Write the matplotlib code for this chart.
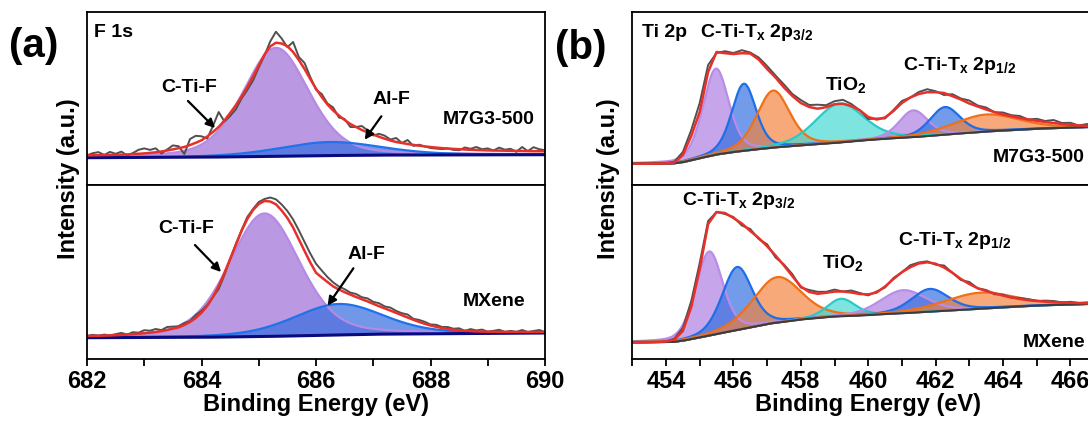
import numpy as np
import matplotlib
matplotlib.use('Agg')
import matplotlib.pyplot as plt
from matplotlib.ticker import MultipleLocator

plt.rcParams['font.family'] = ['Liberation Sans', 'DejaVu Sans']
plt.rcParams['font.weight'] = 'bold'
plt.rcParams['mathtext.fontset'] = 'custom'
plt.rcParams['mathtext.rm'] = 'Liberation Sans:bold'
plt.rcParams['mathtext.it'] = 'Liberation Sans:bold'
plt.rcParams['mathtext.bf'] = 'Liberation Sans:bold'

# ---------------- Panel (a): F 1s ----------------
a_energy = np.linspace(682.0, 690.0, 81)          # 0.1 eV grid

a_top_fit = [29.7, 29.8, 29.9, 30.0, 30.1, 30.2, 30.4, 30.6, 30.9, 31.2,
             31.6, 32.1, 32.7, 33.5, 34.5, 35.6, 36.8, 38.0, 40.0, 42.2,
             44.7, 48.5, 53.0, 58.0, 64.5, 72.0, 79.7, 88.5, 98.0, 108.5,
             119.5, 130.5, 138.5, 142.3, 141.5, 138.8, 133.0, 125.0, 116.0, 106.0,
             96.3, 88.0, 80.5, 74.5, 69.5, 65.0, 61.0, 58.0, 55.0, 52.7,
             50.5, 48.2, 46.3, 44.5, 43.0, 42.0, 41.0, 40.1, 39.3, 38.6,
             38.0, 37.4, 36.9, 36.5, 36.1, 35.8, 35.5, 35.2, 35.0, 34.8,
             34.6, 34.5, 34.4, 34.3, 34.2, 34.1, 34.0, 33.9, 33.8, 33.8, 33.7]
a_top_raw_dev = [0, 2, 3, 0, 3, 1, 3, -1, 1, 4,
                 5, 3, 4, -2, 1, 4, 2, -7, 6, 7,
                 4, -2, 6, 15, -1, -3, -4, -2, -3, -4,
                 -2, -1, 5, 11, 5, -1, 10, 3, 6, 2,
                 -1, 3, 1, 3, -2, 1, -3, 0, 4, 2,
                 -1, 3, 3, 1, 4, 0, 4, -1, 1, 0,
                 -1, -1, -1, 0, -1, -1, 2, 1, 3, 1,
                 2, 0, 3, 1, 2, -1, 4, 0, 4, 2, 1]
a_top_base_e = [682.0, 684.0, 685.0, 686.0, 687.0, 690.0]
a_top_base_v = [27.3, 27.8, 28.4, 29.3, 29.9, 30.3]
a_top_centers = [685.30, 686.25]
a_top_heights = [108.5, 13.5]
a_top_fwhm = [1.35, 2.1]

a_bot_fit = [23.0, 23.1, 23.2, 23.4, 23.6, 23.8, 24.1, 24.4, 24.8, 25.3,
             25.8, 26.3, 27.0, 27.9, 29.0, 30.4, 31.6, 34.0, 37.0, 41.0,
             46.3, 53.0, 62.0, 73.0, 86.0, 100.0, 114.0, 128.0, 140.0, 149.0,
             155.0, 158.0, 157.5, 154.7, 148.5, 141.0, 131.5, 119.7, 108.0, 96.5,
             86.3, 81.5, 77.0, 72.6, 69.5, 66.8, 64.4, 62.0, 59.8, 57.6,
             55.2, 52.8, 50.6, 48.4, 46.1, 43.8, 41.5, 39.2, 37.1, 35.2,
             33.5, 32.2, 31.0, 30.0, 29.3, 28.7, 28.2, 27.9, 27.6, 27.4,
             27.3, 27.2, 27.2, 27.1, 27.1, 27.1, 27.0, 27.0, 27.0, 27.0, 27.0]
a_bot_raw_dev = [0, 1, 0, 1, 0, 1, 2, 0, 2, 1,
                 3, 2, 3, 1, 3, 2, 1, 2, 1, 3,
                 2, 1, 0, -3, -2, 0, 1, 1, 2, 1,
                 2, 2, 4, 5, 6, 7, 8, 9, 9, 9,
                 9, 7, 5, 4, 3, 3, 2, 3, 2, 3,
                 2, 3, 2, 3, 2, 2, 3, 1, 2, 2,
                 1, 2, 1, 2, 1, 2, 0, 2, 1, 2,
                 0, 1, 2, 0, 1, 0, 2, 0, 1, 2, 0]
a_bot_base_e = [682.0, 684.0, 685.0, 686.0, 687.0, 690.0]
a_bot_base_v = [21.3, 21.7, 22.4, 23.5, 24.8, 26.0]
a_bot_centers = [685.10, 686.40]
a_bot_heights = [123.0, 31.0]
a_bot_fwhm = [1.45, 1.85]

a_fill = ['#a070d8', '#3a6fe0']
a_edge = ['#b48ae6', '#1f72ea']

# ---------------- Panel (b): Ti 2p ----------------
b_energy = np.linspace(453.0, 467.0, 57)          # 0.25 eV grid

b_top_fit = [21.3, 21.3, 21.3, 21.4, 21.6, 22.5, 30.0, 49.0, 73.0, 113.0,
             133.0, 131.8, 131.0, 131.8, 131.5, 125.5, 116.0, 107.5, 97.5, 89.0,
             82.0, 78.0, 76.3, 77.8, 80.8, 81.2, 79.0, 74.7, 68.0, 65.5,
             67.5, 74.0, 82.0, 87.5, 91.0, 92.8, 92.8, 92.0, 88.8, 85.5,
             81.5, 78.5, 75.5, 72.8, 70.5, 68.8, 67.0, 65.5, 64.2, 63.0,
             62.0, 61.0, 60.2, 59.5, 59.0, 58.6, 58.3]
b_top_raw_dev = [0, 0, 0, 0, 0, 1, 3, 6, 9, 7,
                 -1, 2, 1, 3, 1, 2, 3, 2, 3, 2,
                 3, 2, 4, 2, 3, 4, 2, 0, -2, 1,
                 -1, 1, 2, 0, 2, 3, 1, -2, 2, 1,
                 3, 1, 2, 0, 2, 1, 2, 0, 2, 1,
                 3, 1, 2, 0, 2, 1, 1]
b_top_base_e = [453.0, 454.2, 454.5, 454.9, 455.5, 456.0, 456.5, 457.2, 458.0,
                459.0, 459.8, 460.6, 461.4, 462.3, 463.5, 465.0, 467.0]
b_top_base_v = [21.3, 21.5, 22.8, 26.0, 30.5, 33.0, 35.0, 37.5, 39.7,
                42.0, 44.5, 46.5, 48.0, 50.5, 53.5, 56.3, 58.5]
b_top_centers = [455.48, 456.31, 457.18, 459.15, 461.34, 462.28, 463.50]
b_top_heights = [86.0, 67.0, 57.0, 39.0, 26.7, 27.5, 17.0]
b_top_fwhm = [0.90, 0.85, 1.15, 1.70, 1.00, 1.05, 2.30]

b_bot_fit = [16.7, 16.7, 16.8, 17.0, 17.5, 19.5, 28.0, 52.0, 90.0, 135.0,
             147.0, 146.0, 141.0, 135.5, 128.0, 121.0, 112.7, 103.5, 93.5, 82.8,
             72.5, 67.0, 65.2, 66.2, 67.4, 67.5, 66.5, 65.0, 64.6, 66.5,
             72.5, 80.0, 86.8, 91.8, 95.5, 96.7, 95.3, 91.5, 86.2, 80.0,
             75.0, 70.7, 68.0, 65.7, 63.4, 61.5, 60.0, 58.8, 58.0, 57.4,
             57.0, 56.6, 56.2, 56.0, 55.7, 55.5, 55.3]
b_bot_raw_dev = [0, 0, 0, 0, 0, 1, 3, 6, 6, 3,
                 0, -1, 1, -2, 2, -1, 2, -2, 1, 2,
                 -1, 2, 2, 1, 2, 0, 2, 1, -1, 1,
                 -1, 1, 0, 2, 1, 1, -1, 2, 0, -1,
                 2, 0, 1, -1, 1, 0, 1, 1, 0, 1,
                 1, 0, 1, 0, 1, 0, 1]
b_bot_base_e = [453.0, 454.2, 454.5, 455.0, 455.5, 456.0, 456.5, 457.1, 458.0,
                458.9, 459.8, 460.5, 461.0, 461.8, 462.7, 463.5, 465.0, 467.0]
b_bot_base_v = [16.7, 17.0, 18.3, 21.5, 25.0, 28.3, 31.5, 35.5, 39.5,
                42.3, 43.5, 45.0, 45.7, 47.3, 49.0, 50.7, 53.5, 55.5]
b_bot_centers = [455.28, 456.11, 457.30, 459.20, 461.04, 461.83, 463.32]
b_bot_heights = [84.0, 63.0, 45.5, 17.5, 23.0, 22.7, 16.0]
b_bot_fwhm = [0.95, 1.05, 1.70, 1.00, 1.60, 1.30, 2.50]

b_fill = ['#ad7be0', '#2f6de0', '#f5803a', '#3fd8d2', '#ad7be0', '#2f6de0', '#f5803a']
b_edge = ['#b98ce8', '#1e6ee8', '#f07018', '#2cc8c8', '#b98ce8', '#1e6ee8', '#f07018']

GL_MIX = 0.3


def peak(e, c, h, w):
    x = (e - c) / w
    return h * ((1 - GL_MIX) * np.exp(-4 * np.log(2) * x ** 2) + GL_MIX / (1 + 4 * x ** 2))


def draw(ax, e_data, fit, dev, be, bv, centers, heights, widths, fills, edges,
         base_color, base_lw, alpha):
    e_fine = np.linspace(e_data[0], e_data[-1], 1400)
    base = np.interp(e_fine, be, bv)
    for c, h, w, fc, ec in zip(centers, heights, widths, fills, edges):
        comp = peak(e_fine, c, h, w)
        ax.fill_between(e_fine, base, base + comp, color=fc, alpha=alpha, lw=0)
        ax.plot(e_fine, base + comp, color=ec, lw=1.6)
    ax.plot(e_fine, base, color=base_color, lw=base_lw)
    fit = np.asarray(fit)
    ax.plot(e_data, fit + np.asarray(dev), color='#505050', lw=1.4)
    ax.plot(e_data, fit, color='#e8302a', lw=1.8)


W, H = 1088, 423
fig = plt.figure(figsize=(W / 100, H / 100), dpi=100)

axA_top = fig.add_axes([87 / W, 1 - 185 / H, 458 / W, 173 / H])
axA_bot = fig.add_axes([87 / W, 1 - 359 / H, 458 / W, 174 / H])
axB_top = fig.add_axes([632.3 / W, 1 - 185 / H, 471.8 / W, 173 / H])
axB_bot = fig.add_axes([632.3 / W, 1 - 359 / H, 471.8 / W, 174 / H])

draw(axA_top, a_energy, a_top_fit, a_top_raw_dev, a_top_base_e, a_top_base_v,
     a_top_centers, a_top_heights, a_top_fwhm, a_fill, a_edge, '#0a0a80', 2.2, 0.72)
draw(axA_bot, a_energy, a_bot_fit, a_bot_raw_dev, a_bot_base_e, a_bot_base_v,
     a_bot_centers, a_bot_heights, a_bot_fwhm, a_fill, a_edge, '#0a0a80', 2.2, 0.72)
draw(axB_top, b_energy, b_top_fit, b_top_raw_dev, b_top_base_e, b_top_base_v,
     b_top_centers, b_top_heights, b_top_fwhm, b_fill, b_edge, '#3c3c3c', 1.5, 0.68)
draw(axB_bot, b_energy, b_bot_fit, b_bot_raw_dev, b_bot_base_e, b_bot_base_v,
     b_bot_centers, b_bot_heights, b_bot_fwhm, b_fill, b_edge, '#3c3c3c', 1.5, 0.68)

for ax in (axA_top, axA_bot):
    ax.set_xlim(682, 690)
for ax in (axB_top, axB_bot):
    ax.set_xlim(453, 467)
for ax in (axA_top, axB_top):
    ax.set_ylim(0, 173)
    ax.tick_params(axis='x', bottom=False, labelbottom=False)
for ax in (axA_bot, axB_bot):
    ax.set_ylim(0, 174)
    ax.xaxis.set_major_locator(MultipleLocator(2))
    ax.xaxis.set_minor_locator(MultipleLocator(1))
    ax.tick_params(axis='x', which='both', direction='out', length=5, width=1.3,
                   labelsize=17, pad=3)
    ax.set_xlabel('Binding Energy (eV)', fontsize=17, fontweight='bold', labelpad=0)
for ax in (axA_top, axA_bot, axB_top, axB_bot):
    ax.set_yticks([])
    for s in ax.spines.values():
        s.set_linewidth(1.3)


def T(x, y, s, size=14, **kw):
    fig.text(x / W, 1 - y / H, s, fontsize=size, fontweight='bold', **kw)


# panel letters and y labels
T(34, 46, '(a)', size=29, ha='center', va='center')
T(581, 48, '(b)', size=29, ha='center', va='center')
T(68, 179, 'Intensity (a.u.)', size=17, ha='center', va='center', rotation=90)
T(609, 179, 'Intensity (a.u.)', size=17, ha='center', va='center', rotation=90)

# panel (a) annotations
T(94, 37, 'F 1s', ha='left', va='baseline')
T(161, 92, 'C-Ti-F', ha='left', va='baseline')
T(373, 104, 'Al-F', ha='left', va='baseline')
T(443, 124, 'M7G3-500', ha='left', va='baseline')
T(158, 233, 'C-Ti-F', ha='left', va='baseline')
T(348, 259, 'Al-F', ha='left', va='baseline')
T(463, 306, 'MXene', ha='left', va='baseline')

arrows = [((186, 99), (217, 130)), ((383, 114), (363, 142)),
          ((193, 243), (223, 274)), ((355, 266), (326, 308))]
for (x0, y0), (x1, y1) in arrows:
    fig.add_artist(matplotlib.patches.FancyArrowPatch(
        (x0 / W, 1 - y0 / H), (x1 / W, 1 - y1 / H), transform=fig.transFigure,
        arrowstyle='-|>', mutation_scale=13, color='black', lw=1.6))

# panel (b) annotations
T(642, 37, 'Ti 2p', ha='left', va='baseline')
T(700, 37, r'C-Ti-T$_\mathregular{x}$ 2p$_\mathregular{3/2}$', ha='left', va='baseline')
T(825, 90, r'TiO$_\mathregular{2}$', ha='left', va='baseline')
T(903, 70, r'C-Ti-T$_\mathregular{x}$ 2p$_\mathregular{1/2}$', ha='left', va='baseline')
T(993, 162, 'M7G3-500', ha='left', va='baseline')
T(682, 205, r'C-Ti-T$_\mathregular{x}$ 2p$_\mathregular{3/2}$', ha='left', va='baseline')
T(822, 268, r'TiO$_\mathregular{2}$', ha='left', va='baseline')
T(898, 245, r'C-Ti-T$_\mathregular{x}$ 2p$_\mathregular{1/2}$', ha='left', va='baseline')
T(1023, 347, 'MXene', ha='left', va='baseline')

fig.savefig('out.png', dpi=100)
